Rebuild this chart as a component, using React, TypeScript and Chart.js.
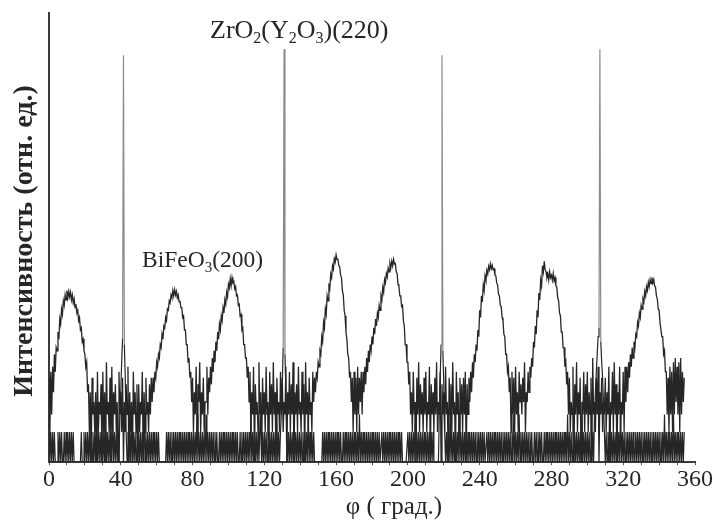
import { useEffect, useRef } from 'react';
import { Chart, registerables } from 'chart.js';

Chart.register(...registerables);

// phi-scan sampled every 0.5 degree starting at 0
const PHI_STEP = 0.5;
const X_MIN = 0;
const X_MAX = 360;
const X_LABELS = [0, 40, 80, 120, 160, 200, 240, 280, 320, 360];
const Y_MIN = 1;
const Y_MAX = 30900;

const Y_TITLE = 'Интенсивность (отн. ед.)';
const X_TITLE = 'φ ( град.)';

// BiFeO3(200) phi-scan counts (0 .. 354 deg, step 0.5)
const BIFEO3_COUNTS = [
  7, 2, 8, 3, 9, 5, 12, 8, 14, 13, 20, 17, 27, 24, 34, 30, 41, 37, 47, 42,
  52, 44, 51, 45, 50, 42, 47, 39, 43, 35, 38, 31, 33, 26, 28, 21, 22, 16, 17, 13,
  12, 9, 10, 5, 6, 2, 5, 1, 7, 3, 4, 2, 5, 1, 8, 2, 4, 3, 6, 1,
  8, 2, 5, 1, 10, 3, 4, 2, 7, 1, 9, 2, 5, 3, 6, 2, 4, 1, 8, 3,
  5, 2, 7, 1, 4, 2, 6, 3, 9, 1, 5, 2, 4, 1, 8, 3, 5, 2, 6, 1,
  6, 2, 4, 3, 8, 1, 5, 2, 7, 3, 4, 2, 6, 3, 7, 4, 7, 5, 8, 7,
  10, 9, 12, 11, 15, 14, 19, 17, 23, 22, 28, 26, 34, 33, 41, 39, 47, 44, 52, 46,
  53, 47, 51, 44, 47, 40, 41, 35, 35, 28, 29, 21, 21, 15, 15, 10, 11, 7, 8, 4,
  7, 2, 5, 3, 9, 2, 6, 4, 10, 2, 5, 3, 7, 2, 4, 4, 9, 3, 7, 5,
  9, 6, 11, 8, 13, 10, 16, 13, 20, 17, 24, 21, 29, 26, 35, 31, 42, 38, 50, 45,
  60, 55, 68, 58, 70, 62, 64, 54, 57, 46, 47, 37, 38, 29, 30, 21, 22, 15, 15, 11,
  11, 7, 9, 4, 8, 2, 5, 3, 9, 1, 6, 3, 4, 2, 10, 3, 5, 1, 7, 3,
  5, 2, 9, 3, 4, 1, 8, 3, 6, 2, 10, 3, 5, 1, 7, 3, 4, 2, 8, 3,
  7, 2, 4, 3, 9, 1, 5, 3, 8, 2, 6, 3, 10, 1, 5, 3, 6, 2, 9, 3,
  4, 2, 8, 3, 6, 1, 10, 3, 5, 2, 7, 3, 4, 2, 8, 4, 7, 5, 8, 7,
  10, 9, 13, 12, 18, 16, 25, 22, 34, 30, 46, 41, 61, 55, 76, 70, 92, 85, 108, 100,
  118, 106, 108, 92, 90, 74, 70, 52, 47, 33, 29, 20, 17, 12, 11, 7, 8, 4, 7, 2,
  8, 3, 7, 2, 9, 3, 7, 4, 8, 3, 8, 5, 9, 6, 11, 8, 13, 10, 15, 13,
  18, 15, 22, 19, 27, 23, 31, 28, 37, 33, 46, 42, 56, 50, 67, 62, 77, 71, 87, 80,
  97, 88, 102, 92, 107, 96, 97, 80, 77, 60, 57, 46, 46, 36, 37, 26, 23, 15, 15, 10,
  10, 6, 8, 3, 5, 2, 8, 3, 4, 1, 7, 3, 10, 2, 6, 3, 5, 2, 7, 3,
  8, 2, 4, 3, 9, 1, 6, 3, 5, 2, 7, 3, 10, 2, 4, 3, 8, 1, 6, 3,
  5, 2, 9, 3, 4, 1, 7, 3, 6, 2, 10, 3, 4, 1, 8, 3, 5, 2, 7, 3,
  6, 2, 7, 3, 8, 1, 6, 3, 7, 4, 8, 5, 10, 7, 12, 10, 15, 13, 21, 18,
  33, 28, 46, 40, 59, 52, 73, 66, 83, 76, 91, 84, 96, 86, 93, 84, 86, 74, 73, 62,
  59, 48, 46, 37, 36, 28, 26, 19, 18, 12, 12, 8, 9, 5, 7, 2, 8, 3, 7, 2,
  9, 3, 5, 2, 8, 4, 6, 3, 7, 4, 10, 2, 5, 4, 8, 5, 9, 7, 11, 9,
  16, 14, 23, 19, 33, 28, 49, 42, 66, 58, 92, 80, 102, 84, 80, 70, 76, 66, 80, 70,
  74, 66, 77, 65, 70, 58, 56, 44, 41, 31, 29, 20, 20, 14, 14, 9, 10, 6, 8, 3,
  7, 2, 4, 3, 9, 1, 6, 3, 10, 2, 5, 3, 7, 1, 4, 3, 8, 2, 6, 3,
  8, 2, 5, 3, 7, 1, 11, 3, 4, 2, 7, 3, 9, 1, 5, 3, 7, 2, 4, 3,
  7, 2, 5, 3, 9, 1, 4, 3, 8, 2, 10, 3, 6, 1, 5, 3, 9, 2, 4, 3,
  8, 2, 9, 4, 9, 5, 10, 7, 12, 9, 14, 11, 16, 14, 19, 18, 25, 23, 31, 28,
  37, 34, 43, 40, 51, 46, 57, 52, 63, 57, 67, 61, 70, 62, 67, 58, 56, 46, 43, 34,
  33, 25, 25, 18, 18, 12, 13, 8, 8, 3, 7, 2, 9, 3, 8, 2, 10, 3, 11, 4,
  9, 3, 10, 2, 11, 3, 8, 4, 7,
];

// ZrO2(Y2O3)(220) phi-scan counts (0 .. 354 deg, step 0.5)
const ZRO2_COUNTS = [
  2, 1, 2, 1, 2, 1, 2, 1, 1, 1, 2, 1, 2, 1, 2, 1, 1, 2, 1, 2,
  1, 2, 1, 2, 1, 2, 1, 2, 1, 1, 1, 1, 1, 1, 1, 1, 2, 1, 1, 2,
  1, 2, 1, 2, 1, 2, 1, 2, 1, 2, 1, 2, 1, 3, 1, 2, 1, 2, 1, 2,
  1, 2, 1, 3, 1, 2, 1, 2, 1, 2, 1, 3, 1, 2, 1, 2, 1, 2, 1, 3,
  5, 10, 17, 11700, 15, 7, 2, 1, 2, 1, 2, 1, 3, 1, 2, 1, 2, 1, 2, 1,
  2, 1, 2, 1, 2, 1, 3, 1, 2, 1, 2, 1, 2, 1, 2, 1, 2, 1, 2, 1,
  2, 1, 2, 1, 1, 1, 1, 1, 1, 1, 1, 2, 1, 2, 1, 2, 1, 2, 1, 2,
  1, 2, 1, 2, 1, 2, 1, 2, 1, 2, 1, 2, 1, 2, 1, 2, 1, 2, 1, 2,
  1, 2, 1, 2, 1, 3, 1, 2, 1, 2, 1, 2, 1, 2, 1, 3, 1, 2, 1, 2,
  1, 2, 1, 2, 1, 2, 1, 2, 1, 1, 2, 1, 2, 1, 2, 1, 2, 1, 2, 1,
  2, 1, 2, 1, 2, 1, 2, 1, 2, 1, 2, 1, 1, 2, 1, 2, 1, 2, 1, 2,
  1, 2, 1, 2, 1, 3, 1, 2, 1, 2, 1, 2, 1, 2, 1, 2, 3, 1, 2, 1,
  2, 1, 2, 1, 3, 1, 2, 1, 2, 1, 2, 1, 2, 1, 3, 1, 2, 1, 2, 3,
  6, 14, 13400, 12, 5, 2, 1, 2, 1, 2, 1, 2, 1, 3, 1, 2, 1, 2, 1, 2,
  1, 2, 1, 2, 1, 2, 1, 2, 1, 3, 1, 2, 1, 2, 1, 2, 1, 1, 1, 1,
  1, 1, 1, 1, 1, 2, 1, 2, 1, 2, 1, 2, 1, 2, 1, 2, 1, 2, 1, 2,
  1, 2, 1, 2, 1, 2, 1, 1, 2, 1, 2, 1, 2, 1, 2, 1, 2, 1, 2, 1,
  2, 1, 2, 1, 2, 1, 3, 1, 2, 1, 2, 1, 2, 1, 2, 1, 2, 1, 2, 1,
  2, 1, 2, 1, 2, 1, 2, 1, 2, 1, 1, 2, 1, 2, 1, 2, 1, 2, 1, 2,
  1, 2, 1, 2, 1, 2, 1, 2, 1, 2, 1, 2, 1, 2, 1, 1, 1, 1, 1, 1,
  2, 1, 2, 1, 2, 1, 2, 1, 3, 1, 2, 1, 2, 1, 2, 1, 2, 1, 2, 1,
  2, 1, 2, 1, 2, 1, 2, 1, 2, 1, 1, 1, 1, 1, 1, 3, 7, 15, 11700, 13,
  6, 2, 1, 2, 1, 2, 1, 3, 1, 2, 1, 2, 1, 2, 1, 2, 1, 3, 1, 2,
  1, 2, 1, 2, 1, 2, 1, 2, 1, 2, 1, 2, 1, 2, 1, 2, 1, 2, 1, 2,
  1, 2, 1, 2, 1, 2, 1, 1, 2, 1, 2, 1, 2, 1, 2, 1, 2, 1, 2, 1,
  2, 1, 2, 1, 2, 1, 2, 1, 2, 1, 2, 1, 2, 1, 2, 1, 2, 1, 3, 1,
  2, 1, 2, 1, 3, 1, 2, 1, 2, 1, 2, 1, 2, 1, 2, 1, 2, 1, 2, 1,
  1, 2, 1, 2, 1, 2, 1, 2, 1, 2, 1, 1, 2, 1, 2, 1, 2, 1, 2, 1,
  2, 1, 2, 1, 2, 1, 2, 1, 2, 1, 2, 1, 2, 1, 2, 1, 2, 1, 3, 1,
  2, 1, 2, 1, 3, 1, 2, 1, 2, 1, 2, 1, 2, 1, 3, 1, 2, 1, 2, 1,
  2, 1, 2, 1, 3, 1, 2, 1, 3, 5, 8, 12, 18, 22, 13400, 16, 10, 7, 4, 2,
  1, 2, 1, 2, 1, 3, 1, 2, 1, 2, 1, 2, 1, 2, 1, 2, 1, 3, 1, 2,
  1, 2, 1, 2, 1, 2, 1, 2, 1, 2, 1, 2, 1, 1, 2, 1, 2, 1, 2, 1,
  2, 1, 2, 1, 2, 1, 2, 1, 2, 1, 2, 1, 2, 1, 2, 1, 2, 1, 2, 1,
  2, 1, 2, 1, 2, 1, 3, 1, 2, 1, 2, 1, 2, 1, 2, 1, 3, 1, 2, 1,
  2, 1, 2, 1, 2, 1, 2, 1, 2,
];

const FONT = '"Liberation Serif", "Times New Roman", serif';
const INK = '#262626';

type Part = [string, boolean];

function drawRich(ctx: CanvasRenderingContext2D, parts: Part[], x: number, y: number, size: number, subSize: number, subDrop: number) {
  let cx = x;
  for (const [text, sub] of parts) {
    ctx.font = `${sub ? subSize : size}px ${FONT}`;
    ctx.fillText(text, cx, sub ? y + subDrop : y);
    cx += ctx.measureText(text).width;
  }
}

const textPlugin = {
  id: 'figureText',
  afterDraw(chart: any) {
    const ctx: CanvasRenderingContext2D = chart.ctx;
    ctx.save();
    ctx.fillStyle = INK;
    ctx.textBaseline = 'alphabetic';

    // Y title (rotated)
    ctx.save();
    ctx.translate(32, 241);
    ctx.rotate(-Math.PI / 2);
    ctx.textAlign = 'center';
    ctx.font = `bold 28px ${FONT}`;
    ctx.fillText(Y_TITLE, 0, 0);
    ctx.restore();

    // X title
    ctx.textAlign = 'center';
    ctx.font = `25px ${FONT}`;
    ctx.fillText(X_TITLE, 394, 514);

    // Annotations
    ctx.textAlign = 'left';
    drawRich(ctx, [['ZrO', false], ['2', true], ['(Y', false], ['2', true], ['O', false], ['3', true], [')(220)', false]], 210, 38, 26, 16, 5);
    drawRich(ctx, [['BiFeO', false], ['3', true], ['(200)', false]], 142, 267, 23.5, 15, 5);
    ctx.restore();
  },
};

const spikeColor = (c: any) =>
  c.p0.parsed.y > 60 || c.p1.parsed.y > 60 ? '#8a8a8a' : undefined;

export default function App() {
  const ref = useRef<HTMLCanvasElement | null>(null);

  useEffect(() => {
    if (!ref.current) return;
    const toPoints = (vals: number[]) => vals.map((v, i) => ({ x: i * PHI_STEP, y: v }));
    const chart = new Chart(ref.current, {
      type: 'line',
      data: {
        datasets: [
          {
            label: 'ZrO2(Y2O3)(220)',
            data: toPoints(ZRO2_COUNTS),
            borderColor: '#262626',
            borderWidth: 1.2,
            pointRadius: 0,
            tension: 0,
            fill: false,
            segment: { borderColor: spikeColor },
          },
          {
            label: 'BiFeO3(200)',
            data: toPoints(BIFEO3_COUNTS),
            borderColor: '#262626',
            borderWidth: 1.3,
            pointRadius: 0,
            tension: 0,
            fill: false,
          },
        ],
      },
      options: {
        animation: false,
        responsive: false,
        devicePixelRatio: 1,
        parsing: false,
        normalized: true,
        layout: { padding: { left: 41, right: 19, top: 13, bottom: 28 } },
        plugins: { legend: { display: false }, tooltip: { enabled: false } },
        scales: {
          x: {
            type: 'linear',
            min: X_MIN,
            max: X_MAX,
            grid: { display: true, drawOnChartArea: false, drawTicks: true, tickLength: 3, color: '#555' },
            border: { display: true, color: '#3a3a3a', width: 2 },
            ticks: {
              stepSize: 10,
              autoSkip: false,
              maxRotation: 0,
              padding: 0,
              color: INK,
              font: { family: FONT, size: 24 },
              callback: (v: any) => (X_LABELS.includes(Number(v)) ? String(v) : ''),
            },
          },
          y: {
            type: 'logarithmic',
            min: Y_MIN,
            max: Y_MAX,
            grid: { display: false },
            border: { display: true, color: '#3a3a3a', width: 2 },
            ticks: { display: false },
          },
        },
      },
      plugins: [textPlugin],
    });
    return () => chart.destroy();
  }, []);

  return (
    <div style={{ position: 'fixed', left: 0, top: 0, width: 714, height: 522, background: '#fff' }}>
      <canvas ref={ref} width={714} height={522} style={{ display: 'block', width: 714, height: 522 }} />
    </div>
  );
}
